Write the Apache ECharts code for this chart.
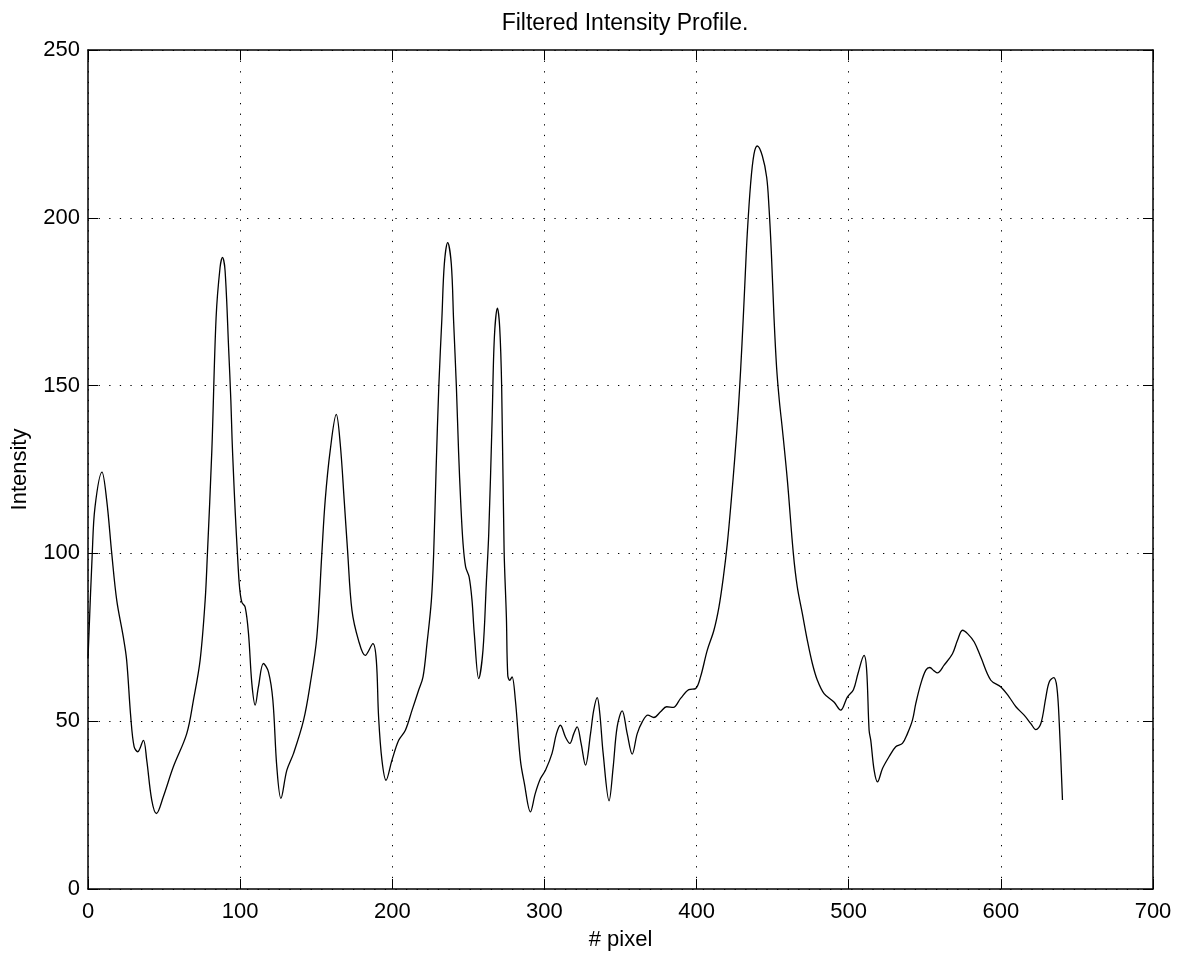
<!DOCTYPE html>
<html>
<head>
<meta charset="utf-8">
<title>Filtered Intensity Profile</title>
<script src="https://cdn.jsdelivr.net/npm/echarts@6/dist/echarts.min.js"></script>
<style>
  html, body { margin: 0; padding: 0; background: #fff; }
  #chart-container { width: 1186px; height: 956px; }
</style>
</head>
<body>
<div id="chart-container"></div>
<script>
// pixel positions and filtered intensity
const pixels = [
  0, 2.8, 4.6, 9.2, 12.3, 15.6, 18.9, 23.2, 25.4, 28.1, 30.3, 32.7, 36.4, 38.6, 41.9, 45,
  49.5, 56.1, 64.9, 69.3, 73.7, 77, 78.5, 81.4, 84.2, 86.8, 88.4, 90.1, 92.5, 93.9, 94.7, 95.6,
  96.8, 98.2, 99.6, 101.1, 103.3, 105.5, 107.7, 109.9, 112, 115.3, 118.6, 121.5, 124.1, 126.8, 130.7,
  135.1, 141.7, 146.1, 150.4, 153.7, 155.9, 159.2, 163.2, 165.8, 168.4, 170.6, 173.5, 177.8,
  182.2, 187.3, 189.5, 191, 193.2, 195.9, 199.8, 204.2, 208.6, 213, 217.3, 220.2, 222.8, 225.7,
  227.2, 228.8, 230.6, 232.6, 234.2, 236.4, 238.8, 240.3, 242.1, 243.6, 245, 246.5, 248.2,
  250.5, 252.4, 253.9, 256.8, 259.6, 261.8, 263.4, 265.6, 267.1, 269.1, 270.6, 271.9, 273.5,
  275, 275.9, 277.2, 278.7, 280.9, 284.2, 286.8, 290.8, 294, 297.4, 300.7, 305, 307.9, 310.5,
  313.8, 316.7, 319.3, 321.5, 324.1, 327, 330.3, 332.4, 334.7, 336.4, 338.6, 342.5, 345.2,
  347.8, 351.1, 354.4, 357.7, 361, 364.3, 368, 371.9, 376.3, 380.3, 384.7, 389.5, 394.9, 399.3,
  402.6, 407, 411.4, 414.7, 417.6, 420.2, 422.8, 425.2, 427.3, 429, 430.7, 432, 433.3, 435.5, 437.7,
  439.9, 443.2, 446.1, 447.6, 449.1, 450.9, 452.6, 454.4, 456.4, 459.7, 463.6, 466.2, 469.5,
  472.8, 476.1, 479.4, 483.8, 490.3, 494.7, 499.1, 503.1, 506.1, 510.1, 511.8, 513.4, 514.5,
  516.7, 518.9, 522.2, 526.5, 530.9, 535.3, 538.6, 541.9, 544.1, 547.4, 550.7, 553.3, 556.1,
  558.3, 562.7, 568.2, 571.5, 574.8, 578.1, 582.5, 586.8, 593.4, 600, 605.5, 609.9, 615.3,
  619.7, 623, 626.3, 629.6, 631.8, 634.7, 636.8, 638.4, 640.5
];
const intensity = [
  68.7, 100, 113.8, 124.2, 115.8, 100, 86, 75.1, 68.2, 51.3, 42.4, 40.9, 44.3, 38.4, 26.5, 22.5,
  27.5, 36.4, 46.3, 56.3, 68.2, 86, 100, 130.7, 170.3, 185.2, 188.2, 184.2, 160.4, 145.5, 134, 124,
  112, 100, 90, 85.5, 84, 76.1, 61.2, 54.8, 60.2, 67.2, 64.7, 56.3, 36.4, 27, 35.4,
  40.4, 50.3, 61.2, 75.1, 100, 115.8, 130.7, 141.4, 132.6, 115.8, 100.9, 83, 74.1,
  69.6, 73.1, 68.2, 51.3, 38.4, 32.4, 38.4, 44.3, 47.3, 53.3, 59.2, 63.2, 73.1, 86,
  100, 125, 150, 170, 186.2, 192.6, 186.2, 169.3, 150, 130, 115, 103, 96,
  93, 86, 76.1, 62.7, 71.1, 91, 105.9, 139.6, 164.4, 173.1, 167.3, 149.5, 100.9,
  81, 63.7, 62.2, 63.2, 56.3, 38.4, 31.5, 23, 28.5, 32.9, 35.4, 40.4, 46.3, 48.8,
  45.3, 43.4, 46.3, 48.3, 43.4, 36.9, 46.3, 53.3, 57, 52.3, 40.4, 26.3, 36.4,
  48.3, 53.1, 46.3, 40.2, 46.3, 49.8, 51.8, 51.1, 52.8, 54.3, 54.1, 56.8, 59.4, 59.7,
  63.2, 71.1, 77.1, 84, 92.9, 102.9, 115.8, 129, 142, 155, 170.3, 183, 195.1, 210, 218.9,
  221.4, 218.5, 212, 203.1, 190.2, 170.3, 155.4, 145.5, 137, 121.7, 100, 90, 82.1,
  74.1, 67.2, 62.2, 58.2, 55.7, 53.3, 57.2, 59.4, 64.2, 69.6, 65.2, 47.3, 44.3,
  35.4, 31.9, 35.9, 39.4, 42.4, 43.4, 46.3, 50.3, 55.3, 61.2, 65.2, 66, 65,
  64.4, 66.7, 70.1, 74.1, 77.1, 76.1, 73.6, 69.1, 62.2, 60.2, 57.2, 54.3, 51.8,
  49.3, 47.5, 49.3, 57.2, 61.7, 63, 60.2, 49.3, 26.5
];
const xTicks = [0, 100, 200, 300, 400, 500, 600, 700];
const yTicks = [0, 50, 100, 150, 200, 250];

const chart = echarts.init(document.getElementById("chart-container"));
const font = "Liberation Sans, Arial, Helvetica, sans-serif";
const dotted = { show: true, lineStyle: { color: "#000", type: [1.3, 9.3], width: 1 } };
const tick = { show: true, inside: true, length: 10, lineStyle: { color: "#000", width: 1 } };
const frame = { show: true, onZero: false, lineStyle: { color: "#000", width: 1.5 } };

const options = {
    animation: false,
    backgroundColor: "#fff",
    title: {
        text: "Filtered Intensity Profile.",
        left: 620,
        textAlign: "center",
        top: 7,
        textStyle: { fontFamily: font, fontSize: 23, fontWeight: "normal", color: "#000" }
    },
    grid: { left: 88, right: 33, top: 50, bottom: 67, containLabel: false },
    xAxis: [
        {
            type: "value",
            min: xTicks[0],
            max: xTicks[xTicks.length - 1],
            interval: 100,
            name: "# pixel",
            nameLocation: "middle",
            nameGap: 40,
            nameTextStyle: { fontFamily: font, fontSize: 22, color: "#000" },
            axisLine: frame,
            axisTick: tick,
            axisLabel: { fontFamily: font, fontSize: 22, color: "#000", margin: 12 },
            splitLine: dotted
        },
        {
            type: "value",
            position: "top",
            min: xTicks[0],
            max: xTicks[xTicks.length - 1],
            interval: 100,
            axisLine: frame,
            axisTick: tick,
            axisLabel: { show: false },
            splitLine: { show: false }
        }
    ],
    yAxis: [
        {
            type: "value",
            min: yTicks[0],
            max: yTicks[yTicks.length - 1],
            interval: 50,
            name: "Intensity",
            nameLocation: "middle",
            nameGap: 57,
            nameRotate: 90,
            nameTextStyle: { fontFamily: font, fontSize: 22, color: "#000" },
            axisLine: frame,
            axisTick: tick,
            axisLabel: { fontFamily: font, fontSize: 22, color: "#000", margin: 8 },
            splitLine: dotted
        },
        {
            type: "value",
            position: "right",
            min: yTicks[0],
            max: yTicks[yTicks.length - 1],
            interval: 50,
            axisLine: frame,
            axisTick: tick,
            axisLabel: { show: false },
            splitLine: { show: false }
        }
    ],
    series: [
        {
            name: "Intensity",
            type: "line",
            xAxisIndex: 0,
            yAxisIndex: 0,
            data: pixels.map((p, i) => [p, intensity[i]]),
            smooth: 0.35,
            showSymbol: false,
            lineStyle: { color: "#000", width: 1.3 }
        }
    ]
};
chart.setOption(options);
</script>
</body>
</html>
